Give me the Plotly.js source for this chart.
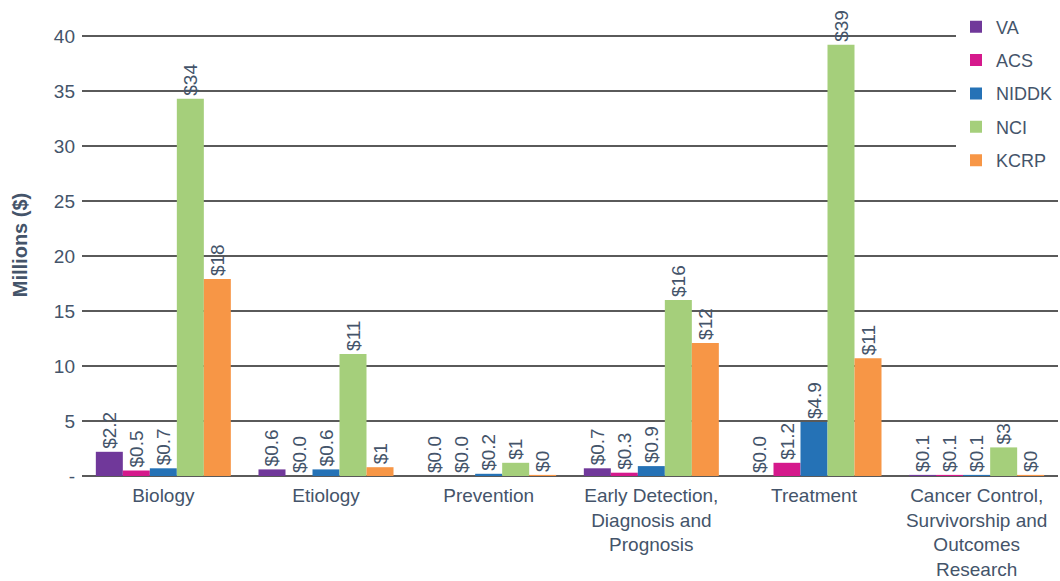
<!DOCTYPE html>
<html>
<head>
<meta charset="utf-8">
<script src="https://cdn.plot.ly/plotly-3.0.1.min.js"></script>
<style>html,body{margin:0;padding:0;background:#fff;}#chart{width:1060px;height:581px;}</style>
</head>
<body>
<div id="chart"></div>
<script>
const categories = ["Biology", "Etiology", "Prevention", "Early Detection,<br>Diagnosis and<br>Prognosis", "Treatment", "Cancer Control,<br>Survivorship and<br>Outcomes<br>Research"];
const seriesNames = ["VA", "ACS", "NIDDK", "NCI", "KCRP"];
const vaValues = [2.2, 0.6, 0.0, 0.7, 0.0, 0.1];
const acsValues = [0.5, 0.0, 0.0, 0.3, 1.2, 0.1];
const niddkValues = [0.7, 0.6, 0.2, 0.9, 4.9, 0.1];
const nciValues = [34.3, 11.1, 1.2, 16.0, 39.2, 2.6];
const kcrpValues = [17.9, 0.8, 0.1, 12.1, 10.7, 0.1];
const vaLabels = ["$2.2", "$0.6", "$0.0", "$0.7", "$0.0", "$0.1"];
const acsLabels = ["$0.5", "$0.0", "$0.0", "$0.3", "$1.2", "$0.1"];
const niddkLabels = ["$0.7", "$0.6", "$0.2", "$0.9", "$4.9", "$0.1"];
const nciLabels = ["$34", "$11", "$1", "$16", "$39", "$3"];
const kcrpLabels = ["$18", "$1", "$0", "$12", "$11", "$0"];
const yTickVals = [0, 5, 10, 15, 20, 25, 30, 35, 40];
const yTickText = ["-", "5", "10", "15", "20", "25", "30", "35", "40"];

const colors = ["#70389a", "#d5198c", "#2572b6", "#a5cf7b", "#f79646"];
const values = [vaValues, acsValues, niddkValues, nciValues, kcrpValues];
const labels = [vaLabels, acsLabels, niddkLabels, nciLabels, kcrpLabels];
const textColor = "#44546a";
const fontFam = "Liberation Sans, Arial, sans-serif";

const traces = seriesNames.map((name, i) => ({
  type: "bar",
  name: name,
  legendgroup: name,
  x: categories,
  y: values[i],
  text: labels[i],
  textposition: "outside",
  textangle: -90,
  constraintext: "none",
  cliponaxis: false,
  textfont: {family: fontFam, size: 19, color: textColor},
  marker: {color: colors[i], line: {width: 0}},
  hoverinfo: "none"
}));

const layout = {
  width: 1060,
  height: 581,
  margin: {l: 82, r: 2, t: 14, b: 105},
  paper_bgcolor: "#fff",
  plot_bgcolor: "#fff",
  font: {family: fontFam, color: textColor, size: 18},
  barmode: "group",
  bargap: 0.17,
  bargroupgap: 0,
  showlegend: true,
  legend: {
    x: 1.0, y: 1.012, xanchor: "right", yanchor: "top",
    bgcolor: "#fff",
    borderwidth: 0,
    font: {size: 18, color: textColor},
    traceorder: "grouped",
    tracegroupgap: 7,
    itemwidth: 30
  },
  xaxis: {
    type: "category",
    showgrid: false,
    showline: false,
    ticks: "",
    ticklabelstandoff: 6,
    tickfont: {size: 19, color: textColor},
    automargin: false
  },
  yaxis: {
    range: [0, 42],
    tickvals: yTickVals,
    ticktext: yTickText,
    showgrid: true,
    gridcolor: "#5a5a5a",
    gridwidth: 1.6,
    zeroline: true,
    zerolinecolor: "#5a5a5a",
    zerolinewidth: 1.6,
    showline: false,
    ticks: "",
    ticklabelstandoff: 6,
    tickfont: {size: 19, color: textColor},
    title: {text: "<b>Millions ($)</b>", font: {size: 20, color: textColor}, standoff: 20},
    automargin: false
  }
};

Plotly.newPlot("chart", traces, layout, {displayModeBar: false, staticPlot: true});
</script>
</body>
</html>
